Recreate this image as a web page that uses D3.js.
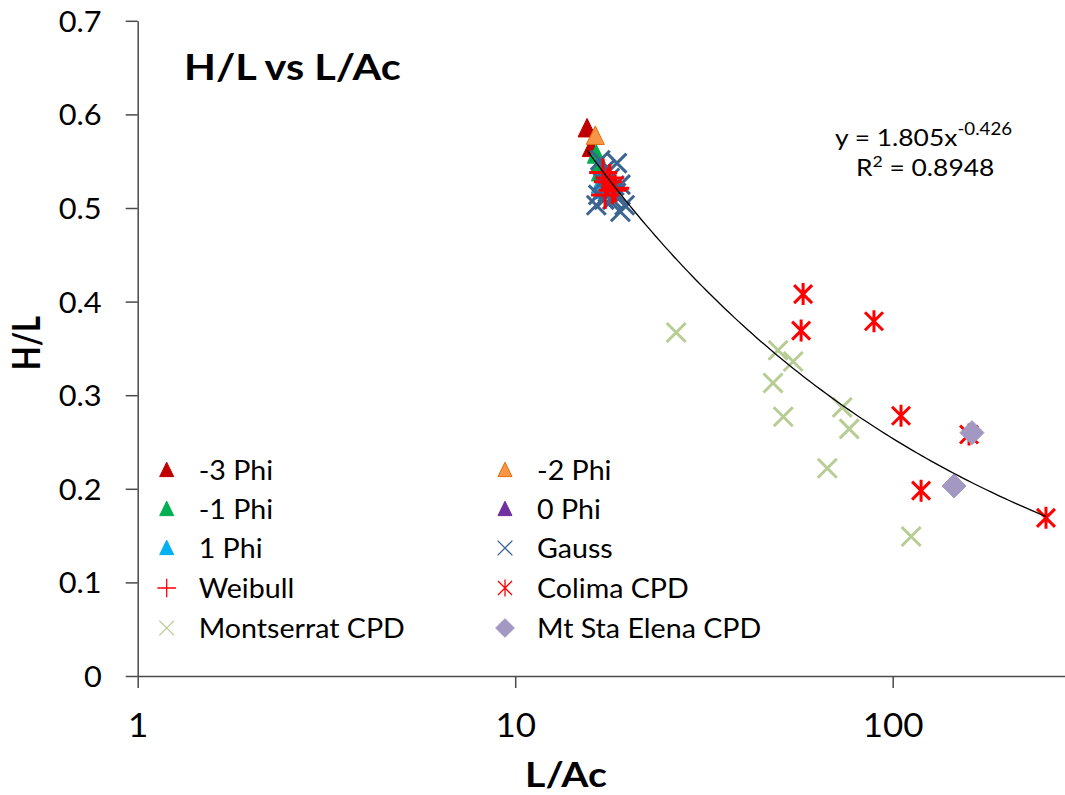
<!DOCTYPE html>
<html>
<head>
<meta charset="utf-8">
<script src="https://cdn.jsdelivr.net/npm/d3@7"></script>
<style>
  html, body { margin: 0; padding: 0; background: #fff; }
  svg { display: block; }
  text { font-family: Lato, "Open Sans", sans-serif; fill: #000; }
</style>
</head>
<body>
<svg id="chart" width="1065" height="795"></svg>
<script>
// ---------------- data ----------------
const xTickValues = [1, 10, 100];
const xTickLabels = ["1", "10", "100"];
const yTickValues = [0, 0.1, 0.2, 0.3, 0.4, 0.5, 0.6, 0.7];
const yTickLabels = ["0", "0.1", "0.2", "0.3", "0.4", "0.5", "0.6", "0.7"];

const phiM3 = [[15.5, 0.585], [15.9, 0.564]];
const phiM2 = [[16.3, 0.577]];
const phiM1 = [[16.4, 0.557], [16.7, 0.546], [16.8, 0.538]];
const phi0 = [[17.1, 0.530]];
const phi1 = [[16.8, 0.525], [17.0, 0.519]];
const gauss = [[17.3, 0.541], [17.8, 0.532], [18.3, 0.524], [17.6, 0.517], [17.2, 0.509],
               [18.1, 0.509], [18.5, 0.516], [19.0, 0.525], [17.0, 0.528], [16.6, 0.514],
               [19.5, 0.503], [19.0, 0.496], [16.4, 0.503], [16.8, 0.551], [18.6, 0.548]];
const weibull = [[17.1, 0.538], [17.6, 0.528], [18.1, 0.519], [17.3, 0.514], [18.4, 0.521], [17.8, 0.532]];
const colima = [[57.9, 0.408], [57.2, 0.369], [89.2, 0.379], [105.2, 0.278], [118.9, 0.198],
                [159.3, 0.258], [254.7, 0.169]];
const montserrat = [[26.7, 0.367], [49.7, 0.348], [54.5, 0.336], [48.2, 0.313], [51.3, 0.277],
                    [73.5, 0.287], [76.7, 0.264], [67.1, 0.222], [111.9, 0.149]];
const stElena = [[162.2, 0.260], [145.4, 0.203]];

const fitA = 1.805, fitB = -0.426, fitR2 = "0.8948";
const fitRange = [15.5, 254.7];

const seriesNames = ["-3 Phi", "-2 Phi", "-1 Phi", "0 Phi", "1 Phi", "Gauss", "Weibull", "Colima CPD", "Montserrat CPD", "Mt Sta Elena CPD"];
const seriesData = [phiM3, phiM2, phiM1, phi0, phi1, gauss, weibull, colima, montserrat, stElena];
const seriesShape = ["tri", "tri", "tri", "tri", "tri", "x", "plus", "star", "x", "diamond"];
const seriesFill = ["#C00000", "#F79646", "#00B050", "#7030A0", "#00B0F0", "none", "none", "none", "none", "#A398C2"];
const seriesStroke = ["#C00000", "#E46C0A", "#00B050", "#7030A0", "#00B0F0", "#3B6491", "#FF0000", "#FF0000", "#B7CD93", "#A398C2"];

// ---------------- layout ----------------
const svg = d3.select("#chart");
const x = d3.scaleLog().domain([1, 1000]).range([137.7, 137.7 + 3 * 377.5]);
const y = d3.scaleLinear().domain([0, 0.7]).range([676, 676 - 655.2]);

function shapePath(shape, big) {
  const k = big ? 1 : 0.78;
  if (shape === "tri") { const w = 9 * k, h = 10 * k; return `M0,${-h} L${w},${h * 0.85} L${-w},${h * 0.85} Z`; }
  if (shape === "x") { const r = 9.5 * k; return `M${-r},${-r} L${r},${r} M${-r},${r} L${r},${-r}`; }
  if (shape === "plus") { const r = (big ? 14 : 12) * k; return `M${-r},0 L${r},0 M0,${-r} L0,${r}`; }
  if (shape === "star") { const r = 9 * k, v = 11 * k; return `M${-r},${-r} L${r},${r} M${-r},${r} L${r},${-r} M0,${-v} L0,${v}`; }
  if (shape === "diamond") { const r = 12 * k; return `M0,${-r} L${r},0 L0,${r} L${-r},0 Z`; }
}

// axes
const SXT = 1.06;
const yAxis = d3.axisLeft(y).tickValues(yTickValues).tickFormat((d, i) => yTickLabels[i]).tickSize(12).tickSizeOuter(0);
const gy = svg.append("g").attr("transform", `translate(${x(1)},0)`).call(yAxis);
gy.selectAll("text").attr("x", -36 / SXT).attr("dy", "0.36em").attr("transform", `scale(${SXT},1)`)
  .style("font-size", "29px").style("font-family", "Lato, sans-serif");

const xAxis = d3.axisBottom(x).tickValues(xTickValues).tickFormat((d, i) => xTickLabels[i]).tickSize(12).tickSizeOuter(0);
const gx = svg.append("g").attr("transform", `translate(0,${y(0)})`).call(xAxis);
gx.selectAll(".tick text").each(function () {
  d3.select(this).attr("y", 0).attr("dy", 0).attr("transform", `translate(0,61) scale(${SXT},1)`)
    .style("font-size", "33px").style("font-family", "Lato, sans-serif");
});
[gx, gy].forEach(g => {
  g.selectAll("path, line").attr("stroke", "#4a4a4a").attr("stroke-width", 1.5);
  g.selectAll("text").attr("fill", "#000");
});

// series
seriesData.forEach((data, si) => {
  const shape = seriesShape[si];
  const lineLike = ["x", "plus", "star"].includes(shape);
  svg.append("g").selectAll("path").data(data).join("path")
    .attr("transform", d => `translate(${x(d[0])},${y(d[1])})`)
    .attr("d", shapePath(shape, true))
    .attr("fill", seriesFill[si])
    .attr("stroke", seriesStroke[si])
    .attr("stroke-width", lineLike ? 3 : 1)
    .attr("stroke-linecap", "butt");
});

// trendline (power fit)
const trendPts = d3.range(0, 101).map(i => {
  const lx = Math.log10(fitRange[0]) + (Math.log10(fitRange[1]) - Math.log10(fitRange[0])) * i / 100;
  const xv = Math.pow(10, lx);
  return [xv, fitA * Math.pow(xv, fitB)];
});
svg.append("path").datum(trendPts)
  .attr("d", d3.line().x(d => x(d[0])).y(d => y(d[1])))
  .attr("fill", "none").attr("stroke", "#000").attr("stroke-width", 1.3);

// text helper
function txt(px, py, str, size, weight, anchor, sx) {
  return svg.append("text")
    .attr("transform", `translate(${px},${py}) scale(${sx || SXT},1)`)
    .attr("text-anchor", anchor || "start")
    .style("font-size", size + "px").style("font-weight", weight || "normal")
    .text(str);
}

// title
txt(184, 80, "H/L vs L/Ac", 37, "bold", "start", 1.12);

// axis titles
txt(566, 787, "L/Ac", 35, "bold", "middle", 1.12);
svg.append("text")
  .attr("transform", `translate(40,343) scale(1.2,1) rotate(-90)`)
  .attr("text-anchor", "middle")
  .style("font-size", "31px").style("font-weight", "bold")
  .text("H/L");

// equation
const eq = txt(835, 146, "y = 1.805x", 24, "normal", "start", 1.1);
eq.append("tspan").attr("dy", -11).style("font-size", "17px").text(String(fitB));
const r2 = txt(856, 176, "R", 24, "normal", "start", 1.1);
r2.append("tspan").attr("dy", -9).style("font-size", "16px").text("2");
r2.append("tspan").attr("dy", 9).text(" = " + fitR2);

// legend
const legCols = [166.7, 505];
const legRows = [470, 509, 548, 588, 628];
seriesNames.forEach((name, i) => {
  const cx = legCols[i % 2], cy = legRows[Math.floor(i / 2)];
  const shape = seriesShape[i];
  const lineLike = ["x", "plus", "star"].includes(shape);
  svg.append("path")
    .attr("transform", `translate(${cx},${cy})`)
    .attr("d", shapePath(shape, false))
    .attr("fill", seriesFill[i])
    .attr("stroke", seriesStroke[i])
    .attr("stroke-width", lineLike ? 1.3 : 1);
  txt(cx + 32, cy + 10, name, 27, "normal", "start", 1.06);
});
</script>
</body>
</html>
